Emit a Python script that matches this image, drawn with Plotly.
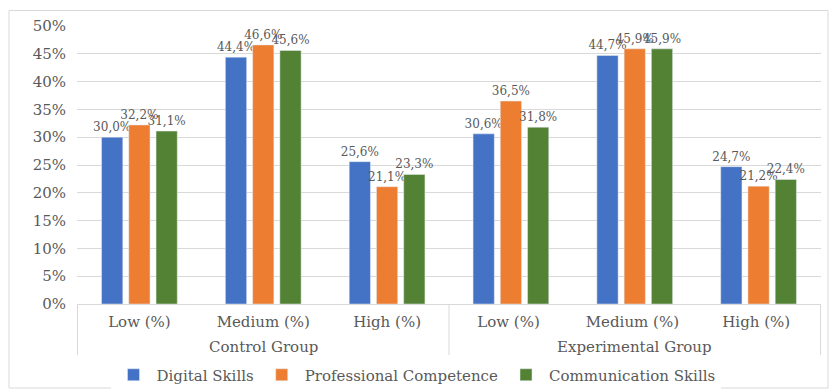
import plotly.graph_objects as go

categories = ["Low (%)", "Medium (%)", "High (%)", "Low (%) ", "Medium (%) ", "High (%) "]
groups = ["Control Group", "Experimental Group"]
digital = [30.0, 44.4, 25.6, 30.6, 44.7, 24.7]
professional = [32.2, 46.6, 21.1, 36.5, 45.9, 21.2]
communication = [31.1, 45.6, 23.3, 31.8, 45.9, 22.4]
series = [("Digital Skills", digital, "#4472C4"),
          ("Professional Competence", professional, "#ED7D31"),
          ("Communication Skills", communication, "#548235")]

FONT = "DejaVu Serif"
GREY = "#595959"

fig = go.Figure()
for name, vals, col in series:
    fig.add_trace(go.Bar(
        x=categories, y=vals, name=name, marker_color=col,
        text=[f"{v:.1f}%".replace(".", ",") for v in vals],
        textposition="outside", cliponaxis=False, constraintext="none",
        textfont=dict(family=FONT, size=12, color=GREY),
    ))

W, H = 831, 389
L, R, T, B = 77, 10, 26, 85
pw, ph = W - L - R, H - T - B

shapes = []
shapes.append(dict(type="rect", xref="paper", yref="paper",
                   x0=(9 - L) / pw, x1=(828 - L) / pw,
                   y0=(T + ph - 388) / ph, y1=(T + ph - 10.5) / ph,
                   line=dict(color="#d9d9d9", width=1), layer="below"))
for xv in [-0.5, 2.5, 5.5]:
    shapes.append(dict(type="line", xref="x", yref="paper", x0=xv, x1=xv,
                       y0=0, y1=-(355 - (T + ph)) / ph,
                       line=dict(color="#d9d9d9", width=1)))

annotations = []
for i, g in enumerate(groups):
    annotations.append(dict(x=1 + 3 * i, y=-(347 - (T + ph)) / ph, xref="x", yref="paper",
                            text=g, showarrow=False, yanchor="middle",
                            font=dict(family=FONT, size=15, color=GREY)))

fig.update_layout(
    width=W, height=H,
    margin=dict(l=L, r=R, t=T, b=B, autoexpand=False),
    paper_bgcolor="white", plot_bgcolor="white",
    barmode="group", bargap=0.34, bargroupgap=0.22,
    font=dict(family=FONT, color=GREY),
    showlegend=True,
    legend=dict(orientation="h", xref="container", x=0.5, xanchor="center",
                yref="container", y=(H - 375) / H, yanchor="middle",
                font=dict(family=FONT, size=15, color=GREY),
                itemwidth=36, tracegroupgap=0),
    shapes=shapes, annotations=annotations,
)
fig.update_yaxes(range=[0, 50], dtick=5, ticksuffix="%", showgrid=True,
                 gridcolor="#d9d9d9", gridwidth=1, zeroline=False,
                 tickfont=dict(family=FONT, size=15, color=GREY), ticks="",
                 ticklabelstandoff=10, showline=False)
fig.update_xaxes(showline=True, linecolor="#d9d9d9", linewidth=1,
                 tickfont=dict(family=FONT, size=15, color=GREY), ticks="",
                 ticklabelstandoff=4)

fig.write_html("out.html")
